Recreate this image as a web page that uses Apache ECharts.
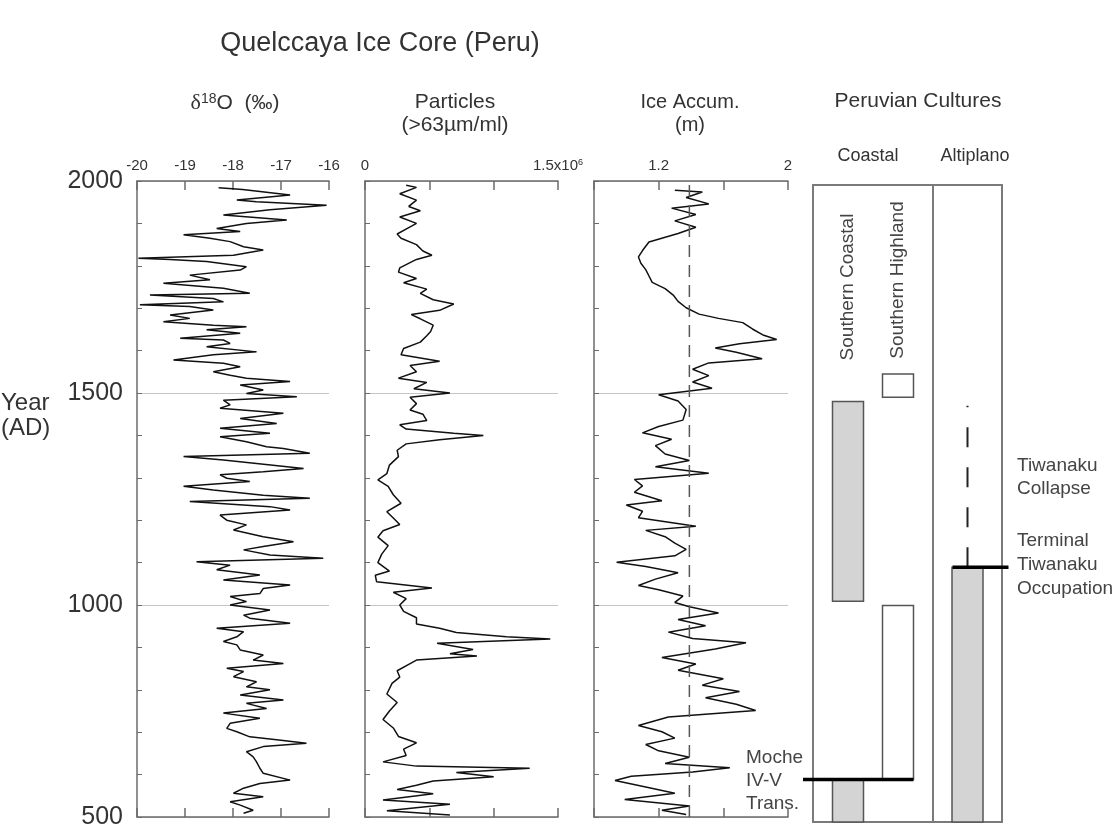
<!DOCTYPE html>
<html>
<head>
<meta charset="utf-8">
<title>Quelccaya Ice Core (Peru)</title>
<script src="https://cdn.jsdelivr.net/npm/echarts@6.0.0/dist/echarts.min.js"></script>
<style>
  html, body { margin: 0; padding: 0; background: #fff; }
  #main { width: 1119px; height: 831px; }
</style>
</head>
<body>
<div id="main"></div>
<script>
// ---- data (year AD, value) ----
const d18oYears = [1984, 1980, 1967, 1955, 1951, 1943, 1932, 1920, 1908, 1900, 1888, 1881, 1873, 1865, 1857, 1845,
  1837, 1825, 1818, 1815, 1810, 1798, 1790, 1778, 1767, 1759, 1747, 1735, 1731, 1723, 1715, 1708, 1704, 1696, 1684,
  1676, 1668, 1660, 1656, 1649, 1641, 1629, 1625, 1617, 1609, 1597, 1590, 1578, 1570, 1562, 1550, 1542, 1535, 1527,
  1519, 1507, 1499, 1491, 1483, 1472, 1464, 1452, 1440, 1428, 1417, 1405, 1397, 1385, 1373, 1369, 1358, 1350, 1342,
  1334, 1322, 1314, 1307, 1299, 1291, 1280, 1271, 1259, 1252, 1244, 1232, 1224, 1212, 1200, 1189, 1177, 1161, 1149,
  1138, 1130, 1118, 1110, 1102, 1094, 1083, 1071, 1059, 1047, 1039, 1027, 1020, 1008, 1000, 988, 976, 969, 957, 945,
  937, 925, 914, 906, 894, 882, 870, 862, 851, 843, 831, 819, 807, 800, 788, 776, 768, 756, 745, 733, 721, 709, 701,
  689, 682, 674, 666, 654, 642, 630, 615, 603, 587, 579, 568, 556, 548, 536, 528, 516, 509];
const d18oValues = [-18.30, -17.80, -16.81, -17.92, -17.51, -16.05, -17.23, -18.20, -16.88, -17.72, -18.34, -17.85,
  -19.03, -18.48, -18.06, -17.78, -17.37, -17.99, -19.97, -19.31, -18.55, -17.72, -17.85, -18.90, -18.48, -19.45,
  -18.20, -17.65, -19.73, -18.41, -18.20, -19.94, -18.90, -18.41, -19.31, -18.90, -19.45, -18.41, -17.72, -18.55,
  -17.85, -19.10, -18.20, -18.06, -18.55, -17.51, -18.41, -19.24, -18.20, -17.85, -18.41, -18.06, -17.72, -16.81,
  -17.85, -17.37, -17.72, -16.67, -18.20, -18.06, -18.27, -16.95, -17.85, -17.09, -18.27, -17.23, -18.27, -17.72,
  -17.30, -16.95, -16.40, -19.03, -18.20, -17.51, -16.53, -17.37, -18.27, -18.13, -17.65, -19.03, -18.41, -17.37,
  -16.40, -18.90, -17.23, -16.81, -18.27, -18.13, -17.72, -17.99, -17.37, -16.74, -17.37, -17.78, -17.23, -16.12,
  -18.76, -18.06, -18.34, -17.44, -18.20, -16.81, -17.37, -17.44, -18.06, -17.72, -18.06, -17.23, -17.78, -17.65,
  -16.81, -18.34, -17.78, -17.92, -18.20, -17.92, -17.85, -17.37, -17.58, -16.95, -18.13, -17.78, -17.99, -17.51,
  -17.72, -17.23, -17.85, -16.95, -17.72, -17.30, -18.20, -17.44, -18.06, -18.13, -17.92, -17.65, -17.09, -16.47,
  -17.37, -17.72, -17.58, -17.51, -17.44, -17.37, -16.81, -17.44, -17.78, -17.99, -17.37, -18.06, -17.85, -17.58,
  -17.78];

// particles, in units of 10^6 per ml
const particleYears = [1990, 1985, 1970, 1955, 1940, 1930, 1915, 1900, 1890, 1875, 1865, 1850, 1835, 1825, 1815, 1795,
  1785, 1770, 1760, 1745, 1735, 1720, 1710, 1695, 1685, 1675, 1660, 1645, 1635, 1620, 1605, 1590, 1575, 1565, 1550,
  1535, 1525, 1510, 1500, 1490, 1475, 1460, 1450, 1435, 1425, 1415, 1405, 1400, 1390, 1380, 1365, 1350, 1330, 1310,
  1295, 1280, 1260, 1240, 1220, 1205, 1190, 1175, 1160, 1140, 1120, 1100, 1080, 1070, 1055, 1040, 1030, 1015, 1000,
  985, 970, 955, 945, 935, 925, 920, 910, 895, 885, 880, 870, 860, 845, 830, 815, 790, 770, 750, 730, 710, 690, 675,
  660, 645, 630, 620, 615, 605, 595, 585, 575, 565, 555, 540, 530, 515, 505];
const particleValues = [0.32, 0.40, 0.27, 0.40, 0.34, 0.43, 0.27, 0.40, 0.34, 0.25, 0.28, 0.40, 0.45, 0.52, 0.40, 0.27,
  0.26, 0.40, 0.30, 0.48, 0.43, 0.53, 0.69, 0.58, 0.36, 0.43, 0.53, 0.51, 0.48, 0.43, 0.30, 0.28, 0.58, 0.35, 0.40,
  0.26, 0.48, 0.38, 0.66, 0.35, 0.40, 0.35, 0.45, 0.48, 0.27, 0.32, 0.69, 0.92, 0.58, 0.32, 0.25, 0.26, 0.19, 0.17,
  0.10, 0.18, 0.22, 0.28, 0.17, 0.22, 0.27, 0.14, 0.10, 0.18, 0.13, 0.10, 0.19, 0.08, 0.09, 0.52, 0.22, 0.32, 0.27,
  0.30, 0.40, 0.40, 0.58, 0.71, 1.10, 1.44, 0.56, 0.84, 0.66, 0.87, 0.40, 0.34, 0.25, 0.27, 0.21, 0.17, 0.25, 0.19,
  0.14, 0.22, 0.26, 0.40, 0.30, 0.32, 0.14, 0.40, 1.28, 0.71, 1.00, 0.53, 0.40, 0.25, 0.53, 0.14, 0.66, 0.17, 0.66];

// ice accumulation, m
const accumYears = [1978, 1974, 1961, 1946, 1936, 1921, 1906, 1891, 1876, 1856, 1836, 1821, 1806, 1791, 1776, 1761,
  1746, 1731, 1716, 1701, 1686, 1676, 1666, 1651, 1636, 1626, 1616, 1606, 1596, 1581, 1571, 1556, 1541, 1526, 1511,
  1496, 1481, 1461, 1436, 1421, 1406, 1391, 1376, 1356, 1341, 1326, 1311, 1296, 1281, 1266, 1246, 1236, 1221, 1206,
  1186, 1176, 1161, 1146, 1131, 1116, 1101, 1091, 1076, 1061, 1046, 1036, 1021, 1006, 996, 981, 966, 951, 936, 921,
  911, 896, 876, 861, 846, 826, 811, 796, 781, 766, 751, 736, 716, 701, 686, 671, 656, 641, 626, 616, 606, 596, 586,
  571, 556, 541, 526, 516, 506];
const accumValues = [1.30, 1.47, 1.37, 1.51, 1.28, 1.43, 1.30, 1.43, 1.32, 1.14, 1.10, 1.075, 1.09, 1.12, 1.14, 1.16,
  1.24, 1.29, 1.32, 1.37, 1.45, 1.57, 1.72, 1.78, 1.85, 1.93, 1.70, 1.55, 1.68, 1.84, 1.51, 1.41, 1.51, 1.41, 1.53,
  1.20, 1.32, 1.37, 1.35, 1.20, 1.10, 1.28, 1.18, 1.24, 1.39, 1.18, 1.51, 1.05, 1.10, 1.05, 1.22, 1.00, 1.10, 1.075,
  1.43, 1.12, 1.24, 1.30, 1.37, 1.30, 0.94, 1.12, 1.32, 1.18, 1.075, 1.20, 1.35, 1.30, 1.39, 1.57, 1.32, 1.49, 1.26,
  1.41, 1.74, 1.55, 1.22, 1.43, 1.32, 1.60, 1.47, 1.70, 1.49, 1.68, 1.80, 1.26, 1.075, 1.22, 1.30, 1.12, 1.20, 1.39,
  1.24, 1.64, 1.41, 1.03, 0.93, 1.12, 1.30, 0.99, 1.39, 1.22, 1.37];
const accumMean = 1.39;

// Peruvian cultures, [from, to] year AD
const southernCoastal = [[500, 600], [1020, 1490]];
const southernHighland = [[600, 1010], [1500, 1555]];
const altiplanoTiwanaku = [[500, 1100]];
const tiwanakuCollapse = [1100, 1480];
const mocheTransition = 600;
const terminalTiwanaku = 1100;

// ---- chart ----
const FONT = '"Liberation Sans", Arial, sans-serif';
const INK = '#333';
const AXIS = '#6b6b6b';
const PANEL_TOP = 181, PANEL_H = 636;
const CULT_TOP = 185, CULT_H = 637;

const pairs = (ys, vs) => ys.map((y, i) => [vs[i], y]);
const near = (a, b) => Math.abs(a - b) < 1e-6;

function valueX(gridIndex, position, min, max, interval, formatter, rich) {
  return {
    gridIndex, type: 'value', position, min, max, interval,
    axisLine: { show: true, onZero: false, lineStyle: { color: AXIS, width: 1.5 } },
    axisTick: { show: true, inside: true, length: 9, lineStyle: { color: AXIS, width: 1.5 } },
    axisLabel: {
      show: position === 'top', formatter, rich, showMinLabel: true, showMaxLabel: true,
      color: INK, fontSize: 15, fontFamily: FONT, margin: 8
    },
    splitLine: { show: false }
  };
}

function yearAxis(gridIndex, showLabels) {
  return {
    gridIndex, type: 'value', min: 500, max: 2000, interval: 500,
    axisLine: { show: true, onZero: false, lineStyle: { color: AXIS, width: 1.5 } },
    axisTick: { show: true, inside: true, length: 5, lineStyle: { color: AXIS } },
    minorTick: { show: true, splitNumber: 5, length: 5, lineStyle: { color: AXIS } },
    splitLine: { show: true, lineStyle: { color: '#c4c4c4', width: 1.2 } },
    axisLabel: { show: showLabels, formatter: v => String(v), color: INK, fontSize: 25, fontFamily: FONT, margin: 14 }
  };
}

function frameX(gridIndex, position, type, data) {
  return {
    gridIndex, position, type, data, min: type === 'value' ? 0 : undefined, max: type === 'value' ? 1 : undefined,
    axisLine: { show: true, onZero: false, lineStyle: { color: '#7a7a7a', width: 2 } },
    axisTick: { show: false }, axisLabel: { show: false }, splitLine: { show: false }
  };
}
function frameY(gridIndex, position) {
  return {
    gridIndex, position, type: 'value', min: 500, max: 2000,
    axisLine: { show: true, onZero: false, lineStyle: { color: '#7a7a7a', width: 2 } },
    axisTick: { show: false }, axisLabel: { show: false }, splitLine: { show: false }
  };
}

const BAR_W = 31;
function periodRenderer(fill) {
  return function (params, api) {
    const c = api.value(0);
    const top = api.coord([c, api.value(2)]);
    const bot = api.coord([c, api.value(1)]);
    return {
      type: 'rect',
      shape: { x: top[0] - BAR_W / 2, y: top[1], width: BAR_W, height: bot[1] - top[1] },
      style: { fill, stroke: '#555', lineWidth: 1.5 }
    };
  };
}

const chart = echarts.init(document.getElementById('main'), null, { renderer: 'canvas' });

const option = {
  animation: false,
  backgroundColor: '#fff',
  grid: [
    { left: 137, top: PANEL_TOP, width: 192, height: PANEL_H },
    { left: 365, top: PANEL_TOP, width: 193, height: PANEL_H },
    { left: 594, top: PANEL_TOP, width: 194, height: PANEL_H },
    { left: 813, top: CULT_TOP, width: 120, height: CULT_H },
    { left: 933, top: CULT_TOP, width: 69, height: CULT_H },
    { left: 823, top: CULT_TOP, width: 100, height: CULT_H }
  ],
  xAxis: [
    valueX(0, 'top', -20, -16, 1, v => String(v)),
    valueX(0, 'bottom', -20, -16, 1),
    valueX(1, 'top', 0, 1.5, 0.5, v => near(v, 0) ? '0' : near(v, 1.5) ? '1.5x10{sup|6}' : '',
      { sup: { fontSize: 9, color: INK, fontFamily: FONT, verticalAlign: 'top', padding: [0, 0, 6, 0] } }),
    valueX(1, 'bottom', 0, 1.5, 0.5),
    valueX(2, 'top', 0.8, 2.0, 0.4, v => near(v, 1.2) ? '1.2' : near(v, 2) ? '2' : ''),
    valueX(2, 'bottom', 0.8, 2.0, 0.4),
    frameX(3, 'top', 'value'),
    frameX(3, 'bottom', 'value'),
    frameX(4, 'top', 'category', ['Altiplano']),
    frameX(4, 'bottom', 'category', ['Altiplano']),
    { gridIndex: 5, type: 'category', data: ['Southern Coastal', 'Southern Highland'], show: false }
  ],
  yAxis: [
    yearAxis(0, true),
    yearAxis(1, false),
    yearAxis(2, false),
    frameY(3, 'left'),
    frameY(3, 'right'),
    frameY(4, 'left'),
    frameY(4, 'right'),
    { gridIndex: 5, type: 'value', min: 500, max: 2000, show: false }
  ],
  series: [
    {
      name: 'd18O', type: 'line', xAxisIndex: 0, yAxisIndex: 0, showSymbol: false,
      data: pairs(d18oYears, d18oValues), lineStyle: { color: '#111', width: 1.5 }
    },
    {
      name: 'Particles', type: 'line', xAxisIndex: 2, yAxisIndex: 1, showSymbol: false,
      data: pairs(particleYears, particleValues), lineStyle: { color: '#111', width: 1.5 }
    },
    {
      name: 'Ice Accum.', type: 'line', xAxisIndex: 4, yAxisIndex: 2, showSymbol: false,
      data: pairs(accumYears, accumValues), lineStyle: { color: '#111', width: 1.5 }
    },
    {
      name: 'Mean accumulation', type: 'line', xAxisIndex: 4, yAxisIndex: 2, showSymbol: false,
      data: [[accumMean, 500], [accumMean, 2000]],
      lineStyle: { color: '#555', width: 1.5, type: [12, 8] }
    },
    {
      name: 'Southern Coastal', type: 'custom', xAxisIndex: 10, yAxisIndex: 7,
      data: southernCoastal.map(p => [0, p[0], p[1]]), renderItem: periodRenderer('#d4d4d4')
    },
    {
      name: 'Southern Highland', type: 'custom', xAxisIndex: 10, yAxisIndex: 7,
      data: southernHighland.map(p => [1, p[0], p[1]]), renderItem: periodRenderer('#fff')
    },
    {
      name: 'Moche IV-V', type: 'custom', xAxisIndex: 10, yAxisIndex: 7, clip: false, z: 5,
      data: [[0, mocheTransition]],
      renderItem: function (params, api) {
        const a = api.coord([0, api.value(1)]);
        const b = api.coord([1, api.value(1)]);
        return { type: 'line', shape: { x1: a[0] - 45, y1: a[1], x2: b[0] + BAR_W / 2, y2: b[1] },
          style: { stroke: '#000', lineWidth: 3.5 } };
      }
    },
    {
      name: 'Tiwanaku', type: 'custom', xAxisIndex: 9, yAxisIndex: 5,
      data: altiplanoTiwanaku.map(p => [0, p[0], p[1]]), renderItem: periodRenderer('#d4d4d4')
    },
    {
      name: 'Tiwanaku Collapse', type: 'custom', xAxisIndex: 9, yAxisIndex: 5, clip: false,
      data: [[0, tiwanakuCollapse[0], tiwanakuCollapse[1]]],
      renderItem: function (params, api) {
        const a = api.coord([0, api.value(1)]);
        const b = api.coord([0, api.value(2)]);
        return { type: 'line', shape: { x1: a[0], y1: a[1], x2: b[0], y2: b[1] },
          style: { stroke: '#222', lineWidth: 2, lineDash: [20, 20] } };
      }
    },
    {
      name: 'Terminal Tiwanaku', type: 'custom', xAxisIndex: 9, yAxisIndex: 5, clip: false, z: 5,
      data: [[0, terminalTiwanaku]],
      renderItem: function (params, api) {
        const a = api.coord([0, api.value(1)]);
        return { type: 'line', shape: { x1: a[0] - 15, y1: a[1], x2: a[0] + 41, y2: a[1] },
          style: { stroke: '#000', lineWidth: 3.5 } };
      }
    }
  ],
  graphic: [
    { type: 'text', x: 380, y: 44, style: { text: 'Quelccaya Ice Core (Peru)', font: '27px ' + FONT, fill: INK,
      textAlign: 'center', textVerticalAlign: 'middle' } },
    { type: 'text', x: 235, y: 103, style: {
      text: '{d|δ}{s|18}{t|O  (‰)}', textAlign: 'center', textVerticalAlign: 'middle',
      rich: {
        d: { fontFamily: '"Liberation Serif", serif', fontSize: 22, fill: INK },
        s: { fontFamily: FONT, fontSize: 14, fill: INK, verticalAlign: 'top' },
        t: { fontFamily: FONT, fontSize: 21, fill: INK }
      } } },
    { type: 'text', x: 455, y: 114, style: { text: 'Particles\n(>63µm/ml)', font: '21px ' + FONT, fill: INK,
      lineHeight: 23, textAlign: 'center', textVerticalAlign: 'middle' } },
    { type: 'text', x: 690, y: 114, style: { text: 'Ice Accum.\n(m)', font: '20px ' + FONT, fill: INK,
      lineHeight: 23, textAlign: 'center', textVerticalAlign: 'middle' } },
    { type: 'text', x: 918, y: 101, style: { text: 'Peruvian Cultures', font: '21px ' + FONT, fill: INK,
      textAlign: 'center', textVerticalAlign: 'middle' } },
    { type: 'text', x: 868, y: 156, style: { text: 'Coastal', font: '18px ' + FONT, fill: INK,
      textAlign: 'center', textVerticalAlign: 'middle' } },
    { type: 'text', x: 975, y: 156, style: { text: 'Altiplano', font: '18px ' + FONT, fill: INK,
      textAlign: 'center', textVerticalAlign: 'middle' } },
    { type: 'text', x: 1, y: 416, style: { text: 'Year\n(AD)', font: '24px ' + FONT, fill: INK, lineHeight: 25,
      textAlign: 'left', textVerticalAlign: 'middle' } },
    { type: 'text', x: 848, y: 287, rotation: Math.PI / 2, style: { text: 'Southern Coastal', font: '19px ' + FONT,
      fill: '#444', textAlign: 'center', textVerticalAlign: 'middle' } },
    { type: 'text', x: 898, y: 280, rotation: Math.PI / 2, style: { text: 'Southern Highland', font: '19px ' + FONT,
      fill: '#444', textAlign: 'center', textVerticalAlign: 'middle' } },
    { type: 'text', x: 746, y: 781, style: { text: 'Moche\nIV-V\nTrans.', font: '19px ' + FONT, fill: '#444',
      lineHeight: 23, textAlign: 'left', textVerticalAlign: 'middle' } },
    { type: 'text', x: 1017, y: 477, style: { text: 'Tiwanaku\nCollapse', font: '19px ' + FONT, fill: '#444',
      lineHeight: 23, textAlign: 'left', textVerticalAlign: 'middle' } },
    { type: 'text', x: 1017, y: 565, style: { text: 'Terminal\nTiwanaku\nOccupation', font: '19px ' + FONT,
      fill: '#444', lineHeight: 24, textAlign: 'left', textVerticalAlign: 'middle' } }
  ]
};

chart.setOption(option);
</script>
</body>
</html>
